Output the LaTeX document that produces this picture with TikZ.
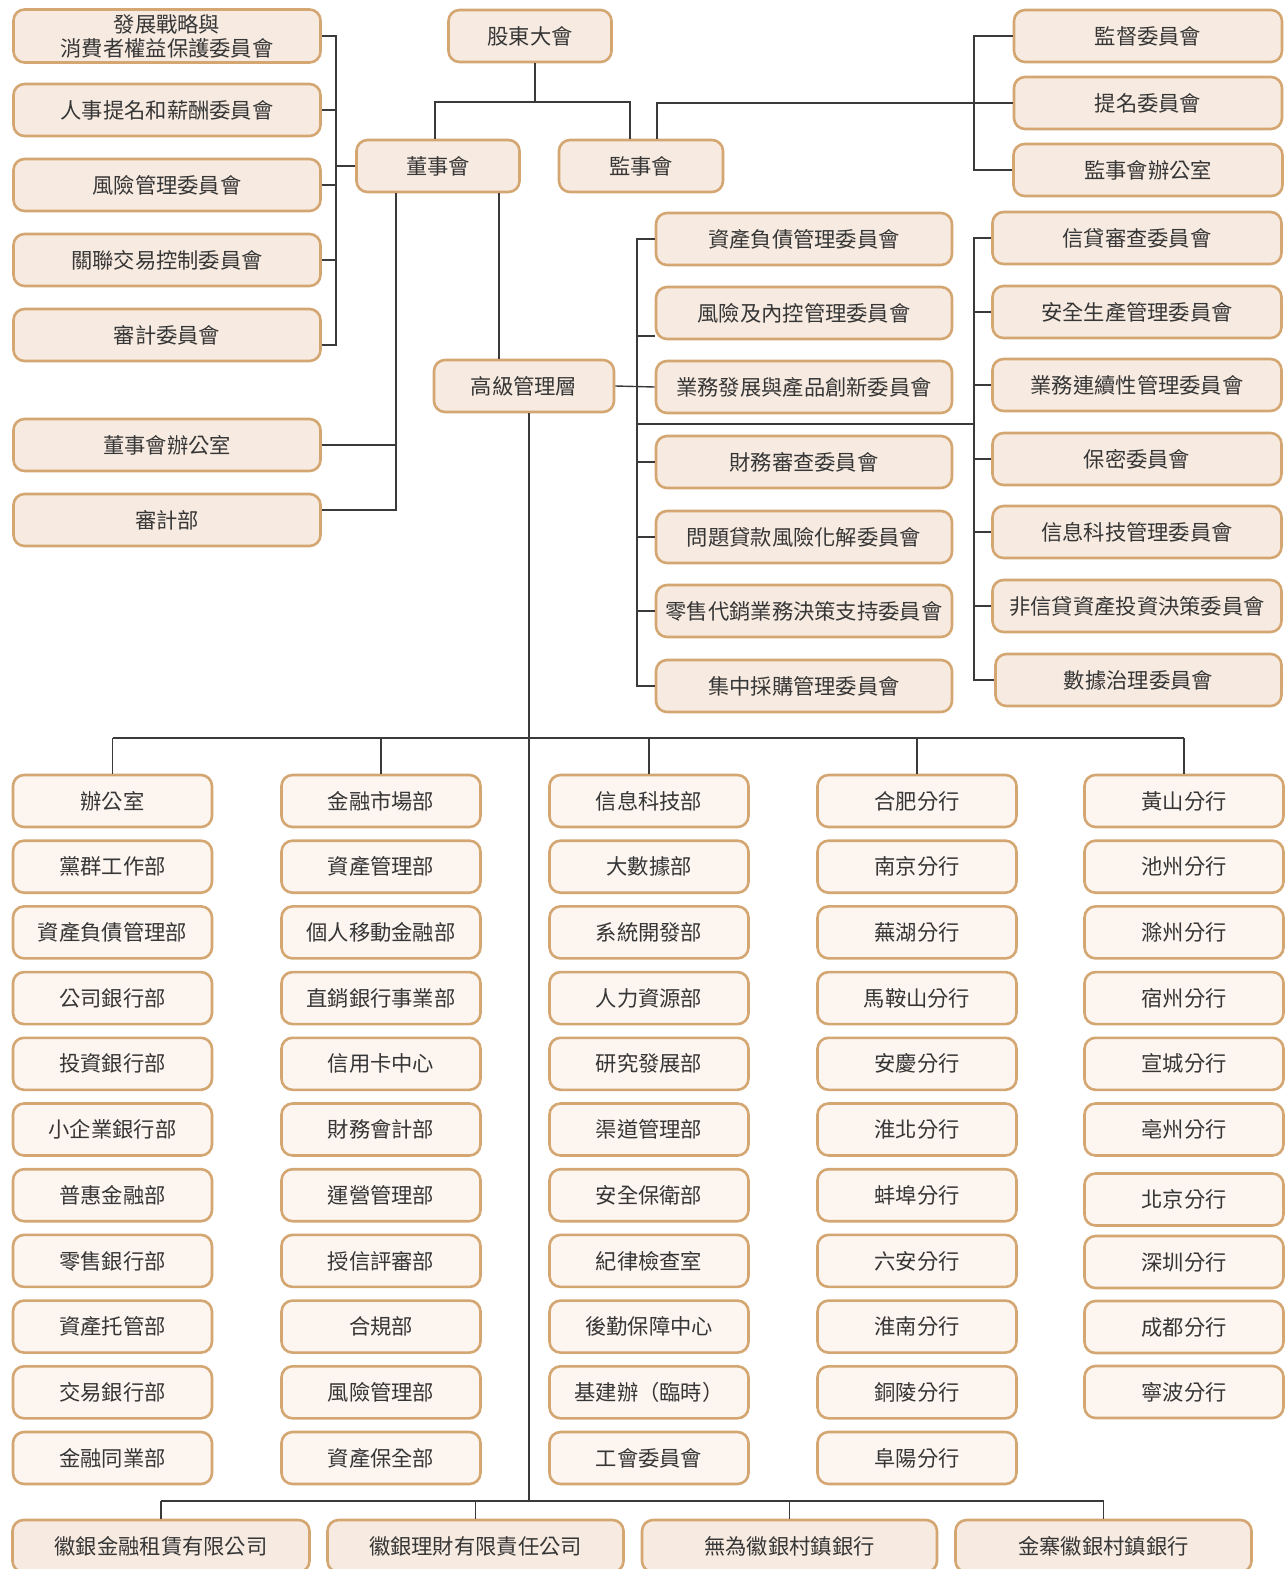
\documentclass[tikz,border=0pt]{standalone}
\usepackage{fontspec}
\newfontfamily\cjk{Noto Sans CJK TC}
\definecolor{bord}{HTML}{D4A672}
\definecolor{fillA}{HTML}{F7EBE1}
\definecolor{fillB}{HTML}{FCF5F0}
\definecolor{txt}{HTML}{363636}
\definecolor{lnc}{HTML}{3A3A3A}
\tikzset{
  box/.style={draw=bord, line width=2.6pt, rounded corners=11pt, fill=fillA, text=txt,
    font=\cjk\fontsize{21.3}{24}\selectfont, align=center, inner sep=0pt, minimum height=52pt},
  gbox/.style={box, fill=fillB, minimum width=199pt},
  ln/.style={draw=lnc, line width=1.4pt},
}
\begin{document}
\begin{tikzpicture}[x=1pt,y=-1pt]
\fill[white] (0,0) rectangle (1287,1569);
\useasboundingbox (0,0) rectangle (1287,1569);
% helper levels
\coordinate (yA) at (0,102);
\coordinate (xL) at (336,0);
\coordinate (xB) at (396,0);
\coordinate (xM) at (637,0);
\coordinate (xR) at (974,0);
\coordinate (yH) at (0,424);
\coordinate (yT) at (0,738);
\coordinate (yBot) at (0,1501);
% top level
\node[box, minimum width=163pt] (sh) at (530,36) {股東大會};
\node[box, minimum width=163pt] (bd) at (438,166) {董事會};
\node[box, minimum width=164pt] (sv) at (641,166) {監事會};
% left committees
\node[box, minimum width=307pt, minimum height=53pt] (lc1) at (167,36) {發展戰略與\\消費者權益保護委員會};
\node[box, minimum width=307pt] (lc2) at (167,110) {人事提名和薪酬委員會};
\node[box, minimum width=307pt] (lc3) at (167,185) {風險管理委員會};
\node[box, minimum width=307pt] (lc4) at (167,260) {關聯交易控制委員會};
\node[box, minimum width=307pt] (lc5) at (167,335) {審計委員會};
\node[box, minimum width=307pt] (bo) at (167,445) {董事會辦公室};
\node[box, minimum width=307pt] (au) at (167,520) {審計部};
% right top
\node[box, minimum width=268pt] (rt1) at (1148,36) {監督委員會};
\node[box, minimum width=268pt] (rt2) at (1148,103) {提名委員會};
\node[box, minimum width=269pt] (rt3) at (1148,170) {監事會辦公室};
% senior management
\node[box, minimum width=180pt] (sm) at (524,386) {高級管理層};
% middle committees
\foreach \t/\y [count=\i] in {資產負債管理委員會/239, 風險及內控管理委員會/313, 業務發展與產品創新委員會/387, 財務審查委員會/462, 問題貸款風險化解委員會/537, 零售代銷業務決策支持委員會/611, 集中採購管理委員會/686}
  \node[box, minimum width=296pt] (mc\i) at (804,\y) {\t};
% right committees
\foreach \t/\y [count=\i] in {信貸審查委員會/238, 安全生產管理委員會/312, 業務連續性管理委員會/385, 保密委員會/459, 信息科技管理委員會/532, 非信貸資產投資決策委員會/606}
  \node[box, minimum width=289pt] (rc\i) at (1137,\y) {\t};
\node[box, minimum width=286pt] (rc7) at (1138.5,680) {數據治理委員會};
% grid
\foreach \t [count=\i] in {辦公室, 黨群工作部, 資產負債管理部, 公司銀行部, 投資銀行部, 小企業銀行部, 普惠金融部, 零售銀行部, 資產托管部, 交易銀行部, 金融同業部}
  \node[gbox] (ga\i) at (112.5,{801+65.7*(\i-1)}) {\t};
\foreach \t [count=\i] in {金融市場部, 資產管理部, 個人移動金融部, 直銷銀行事業部, 信用卡中心, 財務會計部, 運營管理部, 授信評審部, 合規部, 風險管理部, 資產保全部}
  \node[gbox] (gb\i) at (381,{801+65.7*(\i-1)}) {\t};
\foreach \t [count=\i] in {信息科技部, 大數據部, 系統開發部, 人力資源部, 研究發展部, 渠道管理部, 安全保衛部, 紀律檢查室, 後勤保障中心, 基建辦（臨時）, 工會委員會}
  \node[gbox] (gc\i) at (649,{801+65.7*(\i-1)}) {\t};
\foreach \t [count=\i] in {合肥分行, 南京分行, 蕪湖分行, 馬鞍山分行, 安慶分行, 淮北分行, 蚌埠分行, 六安分行, 淮南分行, 銅陵分行, 阜陽分行}
  \node[gbox] (gd\i) at (917,{801+65.7*(\i-1)}) {\t};
\foreach \t/\y [count=\i] in {黃山分行/801, 池州分行/866.7, 滁州分行/932.4, 宿州分行/998.1, 宣城分行/1063.8, 亳州分行/1129.5, 北京分行/1199.5, 深圳分行/1262, 成都分行/1327, 寧波分行/1392}
  \node[gbox] (ge\i) at (1184,\y) {\t};
% subsidiaries
\node[box, minimum width=297pt] (b1) at (161,1546) {徽銀金融租賃有限公司};
\node[box, minimum width=296pt] (b2) at (475.5,1546) {徽銀理財有限責任公司};
\node[box, minimum width=295pt] (b3) at (789.5,1546) {無為徽銀村鎮銀行};
\node[box, minimum width=296pt] (b4) at (1103.5,1546) {金寨徽銀村鎮銀行};
% attachment points
\coordinate (lc5c) at ([yshift=-10pt]lc5.east);
\coordinate (mc2c) at ([yshift=-23pt]mc2.west);
\coordinate (auc) at ([yshift=10pt]au.east);
\coordinate (shc) at ([xshift=5pt]sh.south);
\coordinate (bdn) at ([xshift=-3pt]bd.north);
\coordinate (svn) at ([xshift=-11pt]sv.north);
\coordinate (svr) at ([xshift=16pt]sv.north);
\coordinate (bdl) at ([xshift=-42pt]bd.south);
\coordinate (bdr) at ([xshift=61pt]bd.south);
\coordinate (smb) at ([xshift=5pt]sm.south);
% ---- connectors ----
\draw[ln] (shc) -- (shc |- yA);
\draw[ln] (bdn) |- (svn |- yA) -- (svn);
\draw[ln] (svr) |- (rt2.west);
\draw[ln] (rt1.west) -| (xR |- rt3.west) -- (rt3.west);
% left committees
\draw[ln] (lc1.east) -| (xL |- lc5c) -- (lc5c);
\foreach \n in {lc2,lc3,lc4} \draw[ln] (\n.east) -- (xL |- \n.east);
\draw[ln] (bd.west) -- (xL |- bd.west);
% board to offices and senior management
\draw[ln] (bdl) |- (auc);
\draw[ln] (bo.east) -- (xB |- bo.east);
\draw[ln] (bdr) -- (bdr |- sm.north);
% senior management to committees
\draw[ln] (sm.east) -- (mc3.west);
\draw[ln] (mc1.west) -| (xM |- mc7.west) -- (mc7.west);
\draw[ln] (mc2c) -- (xM |- mc2c);
\foreach \n in {mc4,mc5,mc6} \draw[ln] (\n.west) -- (xM |- \n.west);
\draw[ln] (xM |- yH) -- (xR |- yH);
\draw[ln] (rc1.west) -| (xR |- rc7.west) -- (rc7.west);
\foreach \n in {rc2,rc3,rc4,rc5,rc6} \draw[ln] (\n.west) -- (xR |- \n.west);
% main trunk
\draw[ln] (smb) -- (smb |- yBot);
\draw[ln] (ga1.north |- yT) -- (ge1.north |- yT);
\foreach \n in {ga1,gb1,gc1,gd1,ge1} \draw[ln] (\n.north) -- (\n.north |- yT);
\draw[ln] (b1.north |- yBot) -- (b4.north |- yBot);
\foreach \n in {b1,b2,b3,b4} \draw[ln] (\n.north) -- (\n.north |- yBot);
\end{tikzpicture}
\end{document}
